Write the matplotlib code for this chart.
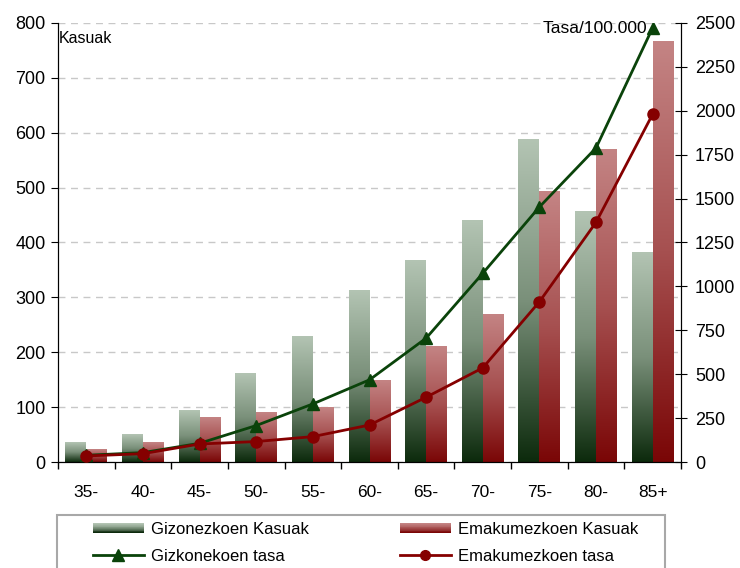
import numpy as np
import matplotlib
matplotlib.use("Agg")
import matplotlib.pyplot as plt
from matplotlib.colors import LinearSegmentedColormap
from matplotlib.legend_handler import HandlerBase
from matplotlib.patches import Rectangle, Patch
from matplotlib.lines import Line2D

plt.rcParams['font.family'] = ['Liberation Sans', 'DejaVu Sans']

categories = ["35-", "40-", "45-", "50-", "55-", "60-", "65-", "70-", "75-", "80-", "85+"]
male_cases = [35, 50, 93, 161, 228, 313, 366, 440, 587, 456, 381]
female_cases = [22, 35, 81, 90, 99, 148, 210, 268, 492, 568, 765]
male_rate = [40, 55, 108, 209, 332, 469, 706, 1075, 1452, 1788, 2471]
female_rate = [36, 49, 104, 118, 146, 212, 370, 537, 913, 1365, 1980]

male_cmap = LinearSegmentedColormap.from_list("m", ["#0c2a0c", "#7a907a", "#b3c4b3"])
female_cmap = LinearSegmentedColormap.from_list("f", ["#7a0606", "#a65050", "#c48484"])

fig = plt.figure(figsize=(7.4, 5.68), dpi=100)
ax = fig.add_axes([58/740, 1-462.3/568, (681-58)/740, (462.3-22.7)/568])
ax2 = ax.twinx()

x = np.arange(len(categories))
w = 0.37
bm = ax.bar(x - w/2, male_cases, w, facecolor='none', edgecolor='none')
bf = ax.bar(x + w/2, female_cases, w, facecolor='none', edgecolor='none')
grad = np.linspace(0, 1, 256)[:, None]
for bars, cmap in ((bm, male_cmap), (bf, female_cmap)):
    for p in bars:
        x0, wd, h = p.get_x(), p.get_width(), p.get_height()
        ax.imshow(grad, extent=[x0, x0 + wd, 0, h], origin='lower', aspect='auto',
                  cmap=cmap, zorder=2, interpolation='bilinear')

ax.set_xlim(-0.5, len(categories) - 0.5)
ax.set_ylim(0, 800)
ax.set_yticks(np.arange(0, 801, 100))
ax.yaxis.grid(True, color='#c8c8c8', linestyle=(0, (5, 4)), linewidth=1)
ax.set_axisbelow(True)
ax.set_xticks(np.arange(-0.5, len(categories)), labels=[])
ax.set_xticks(x, labels=categories, minor=True)
ax.tick_params(axis='x', which='major', length=5, direction='out', width=1)
ax.tick_params(axis='x', which='minor', length=0, pad=16, labelsize=12.5)
ax.tick_params(axis='y', length=5, direction='out', labelsize=13, pad=4)
ax.spines['top'].set_visible(False)
ax2.spines['top'].set_visible(False)
for s in ('left', 'bottom'):
    ax.spines[s].set_color('black')

ax2.plot(x, male_rate, color='#0a430a', lw=2, marker='^', ms=9, zorder=5)
ax2.plot(x, female_rate, color='#850000', lw=2, marker='o', ms=8, zorder=5)
ax2.set_ylim(0, 2500)
ax2.set_yticks(np.arange(0, 2501, 250))
ax2.tick_params(axis='y', length=8, direction='inout', labelsize=13, pad=6)
ax2.spines['right'].set_color('black')

fig.text(59/740, 1-43/568, "Kasuak", fontsize=11.5, ha='left', va='baseline')
fig.text(647/740, 1-33/568, "Tasa/100.000", fontsize=12.5, ha='right', va='baseline')


class GradHandler(HandlerBase):
    def __init__(self, cmap):
        super().__init__()
        self.cmap = cmap

    def create_artists(self, legend, orig_handle, xdescent, ydescent, width, height, fontsize, trans):
        arts = []
        n = 12
        hh = height * 0.8
        y0 = -ydescent + (height - hh) / 2
        for i in range(n):
            r = Rectangle((-xdescent, y0 + hh * i / n), width, hh / n + 0.2,
                          facecolor=self.cmap(i / (n - 1)), edgecolor='none', transform=trans)
            arts.append(r)
        return arts


# legend frame (bottom edge runs off the figure)
frame = Rectangle((57/740, -0.05), (665-57)/740, 0.05 + (1-514.5/568), transform=fig.transFigure,
                  facecolor='white', edgecolor='#a8a8a8', linewidth=1.5, clip_on=False, zorder=0)
fig.add_artist(frame)

hm = Patch(label="Gizonezkoen Kasuak")
hf = Patch(label="Emakumezkoen Kasuak")
lm = Line2D([], [], color='#0a430a', lw=2, marker='^', ms=8, label="Gizkonekoen tasa")
lf = Line2D([], [], color='#850000', lw=2, marker='o', ms=7, label="Emakumezkoen tasa")
common = dict(loc='upper left', frameon=False, fontsize=12, handlelength=3.05,
              handletextpad=0.42, borderpad=0, labelspacing=0.72, borderaxespad=0)
leg1 = fig.legend(handles=[hm, lm], bbox_to_anchor=(93/740, 1-522/568),
                  handler_map={hm: GradHandler(male_cmap)}, **common)
leg2 = fig.legend(handles=[hf, lf], bbox_to_anchor=(400/740, 1-522/568),
                  handler_map={hf: GradHandler(female_cmap)}, **common)

fig.savefig("out.png", dpi=100)
